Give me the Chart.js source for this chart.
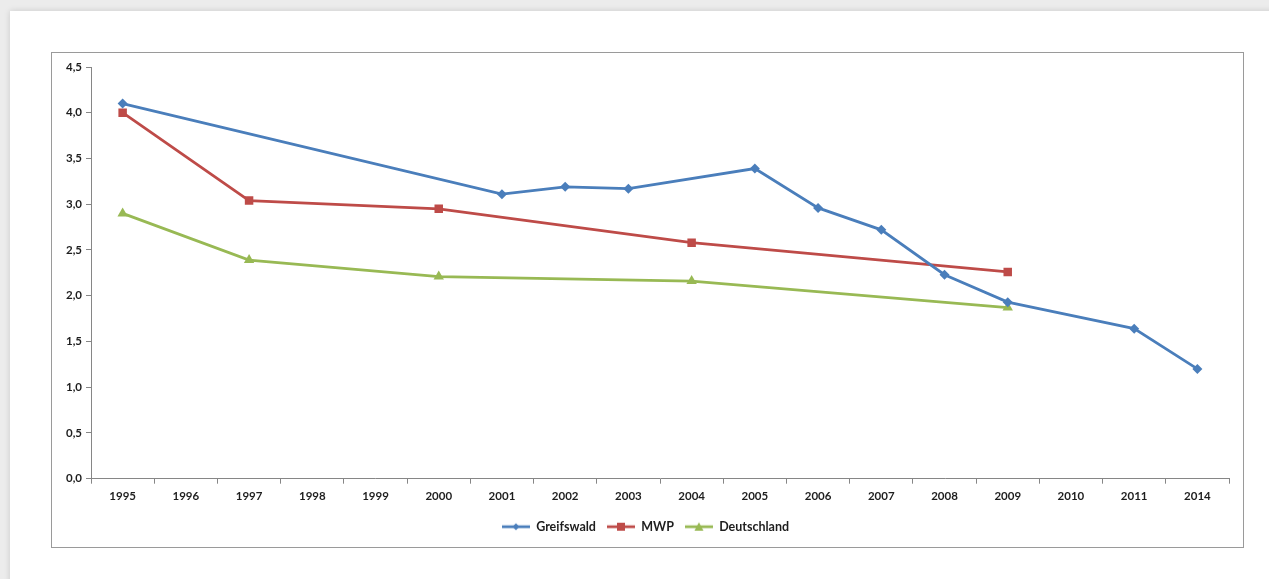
<!DOCTYPE html>
<html lang="de">
<head>
    <meta charset="UTF-8">
    <title>Greifswald / MWP / Deutschland</title>
    <script src="https://cdn.jsdelivr.net/npm/chart.js"></script>
    <style>
        body { margin: 0; background: #ececec; overflow: hidden; }
        .card {
            position: absolute; left: 10px; top: 11px; width: 1280px; height: 590px;
            background: #fff; box-shadow: 0 0 6px rgba(0,0,0,0.15);
        }
        .frame {
            position: absolute; left: 41px; top: 41px; width: 1191px; height: 494px;
            border: 1px solid #9a9a9a; background: #fff;
        }
        canvas { display: block; }
    </style>
</head>
<body>
    <div class="card">
        <div class="frame">
            <canvas id="chart" width="1191" height="494"></canvas>
        </div>
    </div>
    <script>
        const years = ["1995", "1996", "1997", "1998", "1999", "2000", "2001", "2002", "2003",
                       "2004", "2005", "2006", "2007", "2008", "2009", "2010", "2011", "2014"];
        const greifswald = [4.10, null, null, null, null, null, 3.11, 3.19, 3.17,
                            null, 3.39, 2.96, 2.72, 2.23, 1.93, null, 1.64, 1.20];
        const mwp = [4.00, null, 3.04, null, null, 2.95, null, null, null,
                     2.58, null, null, null, null, 2.26, null, null, null];
        const deutschland = [2.90, null, 2.39, null, null, 2.21, null, null, null,
                             2.16, null, null, null, null, 1.87, null, null, null];

        const BLUE = "#4a7ebb", RED = "#be4b48", GREEN = "#98b954";

        // legend icon: short line with the marker in the middle
        function legendIcon(color, shape) {
            const c = document.createElement("canvas");
            c.width = 28; c.height = 12;
            const g = c.getContext("2d");
            g.strokeStyle = color; g.fillStyle = color; g.lineWidth = 2.75;
            g.beginPath(); g.moveTo(0, 6); g.lineTo(28, 6); g.stroke();
            g.beginPath();
            if (shape === "diamond") {
                g.moveTo(14, 2.5); g.lineTo(17.5, 6); g.lineTo(14, 9.5); g.lineTo(10.5, 6);
            } else if (shape === "square") {
                g.rect(10, 2, 8, 8);
            } else {
                g.moveTo(14, 1.5); g.lineTo(18.5, 10); g.lineTo(9.5, 10);
            }
            g.closePath(); g.fill();
            return c;
        }

        const series = [
            { label: "Greifswald", data: greifswald, color: BLUE, style: "rectRot", radius: 5, icon: "diamond" },
            { label: "MWP", data: mwp, color: RED, style: "rect", radius: 6, icon: "square" },
            { label: "Deutschland", data: deutschland, color: GREEN, style: "triangle", radius: 6, icon: "triangle" }
        ];

        new Chart(document.getElementById("chart").getContext("2d"), {
            type: "line",
            data: {
                labels: years,
                datasets: series.map(s => ({
                    label: s.label,
                    data: s.data,
                    borderColor: s.color,
                    backgroundColor: s.color,
                    borderWidth: 2.75,
                    pointStyle: s.style,
                    pointRadius: s.radius,
                    pointBorderWidth: 0,
                    spanGaps: true,
                    tension: 0,
                    legendIcon: legendIcon(s.color, s.icon)
                }))
            },
            options: {
                responsive: false,
                animation: false,
                layout: { padding: { left: 10, right: 14, top: 14, bottom: 4 } },
                plugins: {
                    tooltip: { enabled: false },
                    legend: {
                        position: "bottom",
                        labels: {
                            usePointStyle: true,
                            pointStyleWidth: 28,
                            font: { family: "Lato", size: 12.5, weight: "bold" },
                            color: "#1e1e1e",
                            padding: 11,
                            generateLabels(chart) {
                                return chart.data.datasets.map((ds, i) => ({
                                    text: ds.label,
                                    pointStyle: ds.legendIcon,
                                    fillStyle: ds.borderColor,
                                    strokeStyle: ds.borderColor,
                                    lineWidth: 0,
                                    hidden: false,
                                    datasetIndex: i,
                                    fontColor: "#1e1e1e"
                                }));
                            }
                        }
                    }
                },
                scales: {
                    x: {
                        offset: true,
                        grid: { display: true, drawOnChartArea: false, offset: true, tickLength: 5, color: "#868686" },
                        border: { color: "#868686", width: 1 },
                        ticks: {
                            autoSkip: false, maxRotation: 0, padding: 6,
                            font: { family: "Lato", size: 11.5, weight: "bold" }, color: "#1e1e1e"
                        }
                    },
                    y: {
                        min: 0, max: 4.5,
                        grid: { display: true, drawOnChartArea: false, tickLength: 5, color: "#868686" },
                        border: { color: "#868686", width: 1 },
                        ticks: {
                            stepSize: 0.5, padding: 4,
                            font: { family: "Lato", size: 11.5, weight: "bold" }, color: "#1e1e1e",
                            callback: v => v.toFixed(1).replace(".", ",")
                        }
                    }
                }
            }
        });
    </script>
</body>
</html>
